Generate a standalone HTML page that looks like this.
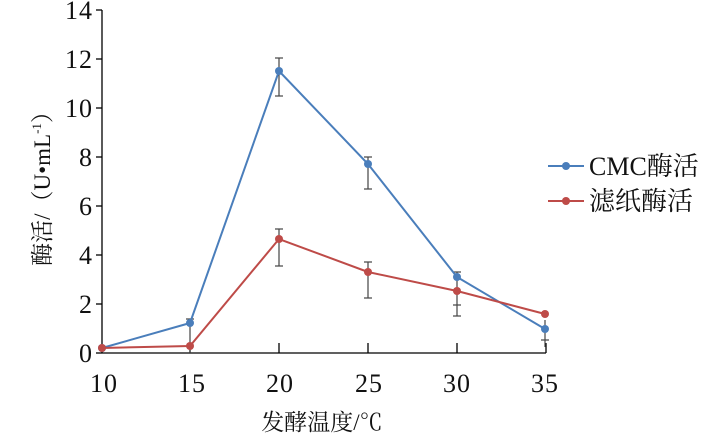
<!DOCTYPE html>
<html><head><meta charset="utf-8"><style>
body{margin:0;background:#fff}
svg text{font-family:"Liberation Serif","Noto Serif CJK SC","Noto Sans CJK SC",serif;fill:#111}
</style></head><body>
<svg width="725" height="439" viewBox="0 0 725 439" xmlns="http://www.w3.org/2000/svg">
<rect width="725" height="439" fill="#fff"/>
<g stroke="#000" stroke-width="1.3" fill="none">
<line x1="102" y1="10" x2="102" y2="353"/>
<line x1="102" y1="353" x2="546" y2="353"/>
<line x1="96" y1="10" x2="102" y2="10"/>
<line x1="96" y1="59" x2="102" y2="59"/>
<line x1="96" y1="108" x2="102" y2="108"/>
<line x1="96" y1="157" x2="102" y2="157"/>
<line x1="96" y1="206" x2="102" y2="206"/>
<line x1="96" y1="255" x2="102" y2="255"/>
<line x1="96" y1="304" x2="102" y2="304"/>
<line x1="96" y1="353" x2="102" y2="353"/>
<line x1="190" y1="343" x2="190" y2="353"/>
<line x1="279" y1="343" x2="279" y2="353"/>
<line x1="368" y1="343" x2="368" y2="353"/>
<line x1="457" y1="343" x2="457" y2="353"/>
<line x1="546" y1="343" x2="546" y2="353"/>
</g>
<g font-size="26" text-anchor="end" letter-spacing="1">
<text x="93" y="19">14</text><text x="93" y="68">12</text><text x="93" y="117">10</text>
<text x="93" y="166">8</text><text x="93" y="215">6</text><text x="93" y="264">4</text>
<text x="93" y="313">2</text><text x="93" y="362">0</text>
</g>
<g font-size="26" text-anchor="middle" letter-spacing="1">
<text x="104" y="392">10</text><text x="192" y="392">15</text><text x="280" y="392">20</text>
<text x="369" y="392">25</text><text x="457" y="392">30</text><text x="545" y="392">35</text>
</g>
<text x="322" y="430" font-size="23" text-anchor="middle">发酵温度/℃</text>
<text transform="translate(50,183) rotate(-90)" font-size="23" text-anchor="middle">酶活/（U•mL<tspan font-size="13" dy="-9">-1</tspan><tspan dy="9">）</tspan></text>
<g stroke="#444" stroke-width="1.2">
<line x1="190" y1="319" x2="190" y2="353"/><line x1="186" y1="319" x2="194" y2="319"/>
<line x1="279" y1="58" x2="279" y2="96"/><line x1="275" y1="58" x2="283" y2="58"/><line x1="275" y1="96" x2="283" y2="96"/>
<line x1="368" y1="157" x2="368" y2="189"/><line x1="364" y1="157" x2="372" y2="157"/><line x1="364" y1="189" x2="372" y2="189"/>
<line x1="457" y1="272" x2="457" y2="316"/><line x1="453" y1="272" x2="461" y2="272"/><line x1="453" y1="316" x2="461" y2="316"/><line x1="453" y1="305" x2="461" y2="305"/>
<line x1="545" y1="320" x2="545" y2="347"/><line x1="541" y1="340" x2="549" y2="340"/>
<line x1="279" y1="229" x2="279" y2="266"/><line x1="275" y1="229" x2="283" y2="229"/><line x1="275" y1="266" x2="283" y2="266"/>
<line x1="368" y1="262" x2="368" y2="298"/><line x1="364" y1="262" x2="372" y2="262"/><line x1="364" y1="298" x2="372" y2="298"/>
</g>
<polyline fill="none" stroke="#4a7ebb" stroke-width="2" points="102,348 190,323 279,71 368,164 457,277 545,329"/>
<g fill="#4a7ebb"><circle cx="102" cy="348" r="4"/><circle cx="190" cy="323" r="4"/><circle cx="279" cy="71" r="4"/><circle cx="368" cy="164" r="4"/><circle cx="457" cy="277" r="4"/><circle cx="545" cy="329" r="4"/></g>
<polyline fill="none" stroke="#be4b48" stroke-width="2" points="102,348 190,346 279,239 368,272 457,291 545,314"/>
<g fill="#be4b48"><circle cx="102" cy="348" r="4"/><circle cx="190" cy="346" r="4"/><circle cx="279" cy="239" r="4"/><circle cx="368" cy="272" r="4"/><circle cx="457" cy="291" r="4"/><circle cx="545" cy="314" r="4"/></g>
<line x1="548" y1="166" x2="584" y2="166" stroke="#4a7ebb" stroke-width="2"/><circle cx="566" cy="166" r="4" fill="#4a7ebb"/>
<line x1="548" y1="201" x2="584" y2="201" stroke="#be4b48" stroke-width="2"/><circle cx="566" cy="201" r="4" fill="#be4b48"/>
<text x="589" y="175" font-size="26">CMC酶活</text>
<text x="589" y="210" font-size="26">滤纸酶活</text>
</svg>
</body></html>
